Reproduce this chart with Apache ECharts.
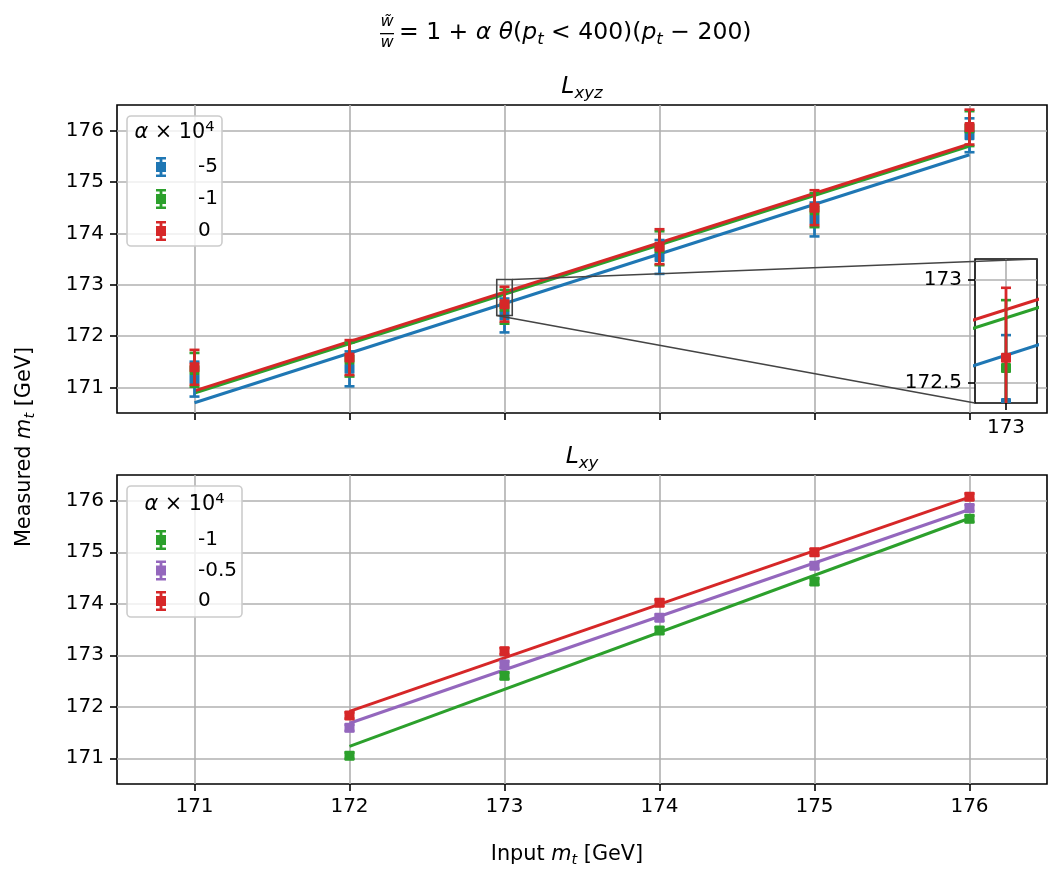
<!DOCTYPE html>
<html><head><meta charset="utf-8">
<script src="https://cdn.jsdelivr.net/npm/echarts@6/dist/echarts.min.js"></script>
<style>html,body{margin:0;padding:0;background:#fff}#c{width:1062px;height:882px}</style>
</head><body><div id="c"></div>
<script>
// ---------- data ----------
const topInputMt = [171, 172, 173, 174, 175, 176];
const topAlphaLabels = ['-5', '-1', '0'];
const topBlueMeas  = [171.16, 171.36, 172.40, 173.54, 174.27, 175.91];
const topGreenMeas = [171.34, 171.54, 172.57, 173.71, 174.45, 176.04];
const topRedMeas   = [171.39, 171.58, 172.62, 173.74, 174.50, 176.07];
const topBlueErr   = [0.34, 0.34, 0.33, 0.33, 0.33, 0.33];
const topGreenErr  = [0.33, 0.33, 0.33, 0.33, 0.33, 0.34];
const topRedErr    = [0.34, 0.34, 0.34, 0.34, 0.34, 0.34];
const topFitX      = [171, 176];
const topBlueFit   = [170.70, 175.53];
const topGreenFit  = [170.89, 175.70];
const topRedFit    = [170.93, 175.74];

const botInputMt = [172, 173, 174, 175, 176];
const botAlphaLabels = ['-1', '-0.5', '0'];
const botGreenMeas  = [171.05, 172.60, 173.48, 174.43, 175.65];
const botPurpleMeas = [171.59, 172.82, 173.73, 174.74, 175.86];
const botRedMeas    = [171.83, 173.08, 174.02, 175.00, 176.08];
const botGreenErr   = [0.06, 0.06, 0.06, 0.06, 0.06];
const botPurpleErr  = [0.06, 0.06, 0.06, 0.06, 0.06];
const botRedErr     = [0.06, 0.06, 0.06, 0.06, 0.06];
const botFitX       = [172, 176];
const botGreenFit   = [171.23, 175.66];
const botPurpleFit  = [171.68, 175.83];
const botRedFit     = [171.91, 176.07];

const xTickValues = [171, 172, 173, 174, 175, 176];
const yTickValues = [171, 172, 173, 174, 175, 176];
const insetXTicks = [173];
const insetYTicks = [172.5, 173];
const insetXRange = [172.95, 173.05];
const insetYRange = [172.4, 173.1];

// ---------- styling ----------
const FONT = 'DejaVu Sans';
const COL = { blue: '#1f77b4', green: '#2ca02c', red: '#d62728', purple: '#9467bd' };
const TICKFS = 20;

function zip(xs, ys, es) { return xs.map((x, i) => es ? [x, ys[i], es[i]] : [x, ys[i]]); }

function errRender(color) {
  return function (params, api) {
    const x = api.value(0), y = api.value(1), e = api.value(2);
    const p = api.coord([x, y]);
    const pt = api.coord([x, y + e]);
    const pb = api.coord([x, y - e]);
    const cap = 5, s = 10;
    return {
      type: 'group',
      children: [
        { type: 'line', shape: { x1: p[0], y1: pt[1], x2: p[0], y2: pb[1] }, style: { stroke: color, lineWidth: 2.8 } },
        { type: 'line', shape: { x1: p[0] - cap, y1: pt[1], x2: p[0] + cap, y2: pt[1] }, style: { stroke: color, lineWidth: 2.6 } },
        { type: 'line', shape: { x1: p[0] - cap, y1: pb[1], x2: p[0] + cap, y2: pb[1] }, style: { stroke: color, lineWidth: 2.6 } },
        { type: 'rect', shape: { x: p[0] - s / 2, y: p[1] - s / 2, width: s, height: s, r: 1 }, style: { fill: color } }
      ]
    };
  };
}
function errSeries(name, gi, xs, ys, es, color) {
  return { type: 'custom', name: name, xAxisIndex: gi, yAxisIndex: gi, clip: true,
    renderItem: errRender(color), itemStyle: { color: color },
    data: zip(xs, ys, es), encode: { x: 0, y: 1 }, z: 4, silent: true };
}
function fitSeries(name, gi, xs, ys, color) {
  return { type: 'line', name: name, xAxisIndex: gi, yAxisIndex: gi, data: zip(xs, ys),
    symbol: 'none', lineStyle: { color: color, width: 3 }, itemStyle: { color: color },
    z: 3, silent: true, animation: false, clip: true };
}
function xAx(gi, min, max, ticks, showLabel, margin) {
  return { type: 'value', gridIndex: gi, min: min, max: max,
    axisLine: { show: false },
    axisTick: { show: true, customValues: ticks, length: 7, lineStyle: { color: '#000', width: 1.6 } },
    axisLabel: { show: showLabel, customValues: ticks, color: '#000', fontSize: TICKFS, fontFamily: FONT, margin: margin,
      formatter: v => String(v) },
    splitLine: { show: true, lineStyle: { color: '#b0b0b0', width: 1.6 } } };
}
function yAx(gi, min, max, ticks, margin) {
  return { type: 'value', gridIndex: gi, min: min, max: max,
    axisLine: { show: false },
    axisTick: { show: true, customValues: ticks, length: 7, lineStyle: { color: '#000', width: 1.6 } },
    axisLabel: { show: true, customValues: ticks, color: '#000', fontSize: TICKFS, fontFamily: FONT, margin: margin,
      formatter: v => String(v) },
    splitLine: { show: true, lineStyle: { color: '#b0b0b0', width: 1.6 } } };
}

const ICON = 'path://M0,0H10V2.6H0Z M3.6,0H6.4V20H3.6Z M0,17.4H10V20H0Z M0,5H10V15H0Z';

const option = {
  animation: false,
  backgroundColor: '#fff',
  grid: [
    { left: 117, top: 105, width: 930, height: 308, show: true, borderColor: '#000', borderWidth: 1.6, backgroundColor: 'transparent' },
    { left: 117, top: 475, width: 930, height: 309, show: true, borderColor: '#000', borderWidth: 1.6, backgroundColor: 'transparent' },
    { left: 975, top: 259, width: 62, height: 144, show: true, borderColor: '#000', borderWidth: 1.6, backgroundColor: '#fff', z: 5 }
  ],
  xAxis: [
    xAx(0, 170.5, 176.5, xTickValues, false, 13),
    xAx(1, 170.5, 176.5, xTickValues, true, 13),
    Object.assign(xAx(2, insetXRange[0], insetXRange[1], insetXTicks, true, 15), { z: 6 })
  ],
  yAxis: [
    yAx(0, 170.5, 176.5, yTickValues, 13),
    yAx(1, 170.5, 176.5, yTickValues, 13),
    Object.assign(yAx(2, insetYRange[0], insetYRange[1], insetYTicks, 13), { z: 6 })
  ],
  legend: [
    { show: true, orient: 'vertical', left: 151, top: 152, itemWidth: 10, itemHeight: 20, itemGap: 12,
      selectedMode: false, formatter: n => n.split(':')[1],
      textStyle: { color: '#000', fontSize: TICKFS, fontFamily: FONT, lineHeight: 20, padding: [0, 0, 0, 27] },
      data: topAlphaLabels.map(a => ({ name: 'top:' + a, icon: ICON })) },
    { show: true, orient: 'vertical', left: 151, top: 525, itemWidth: 10, itemHeight: 20, itemGap: 10.5,
      selectedMode: false, formatter: n => n.split(':')[1],
      textStyle: { color: '#000', fontSize: TICKFS, fontFamily: FONT, lineHeight: 20, padding: [0, 0, 0, 27] },
      data: botAlphaLabels.map(a => ({ name: 'bot:' + a, icon: ICON })) }
  ],
  series: [
    fitSeries('fitb', 0, topFitX, topBlueFit, COL.blue),
    fitSeries('fitg', 0, topFitX, topGreenFit, COL.green),
    fitSeries('fitr', 0, topFitX, topRedFit, COL.red),
    errSeries('top:' + topAlphaLabels[0], 0, topInputMt, topBlueMeas, topBlueErr, COL.blue),
    errSeries('top:' + topAlphaLabels[1], 0, topInputMt, topGreenMeas, topGreenErr, COL.green),
    errSeries('top:' + topAlphaLabels[2], 0, topInputMt, topRedMeas, topRedErr, COL.red),

    Object.assign(fitSeries('ifitb', 2, topFitX, topBlueFit, COL.blue), { z: 7 }),
    Object.assign(fitSeries('ifitg', 2, topFitX, topGreenFit, COL.green), { z: 7 }),
    Object.assign(fitSeries('ifitr', 2, topFitX, topRedFit, COL.red), { z: 7 }),
    Object.assign(errSeries('ins:b', 2, topInputMt, topBlueMeas, topBlueErr, COL.blue), { z: 8 }),
    Object.assign(errSeries('ins:g', 2, topInputMt, topGreenMeas, topGreenErr, COL.green), { z: 8 }),
    Object.assign(errSeries('ins:r', 2, topInputMt, topRedMeas, topRedErr, COL.red), { z: 8 }),

    fitSeries('bfitg', 1, botFitX, botGreenFit, COL.green),
    fitSeries('bfitp', 1, botFitX, botPurpleFit, COL.purple),
    fitSeries('bfitr', 1, botFitX, botRedFit, COL.red),
    errSeries('bot:' + botAlphaLabels[0], 1, botInputMt, botGreenMeas, botGreenErr, COL.green),
    errSeries('bot:' + botAlphaLabels[1], 1, botInputMt, botPurpleMeas, botPurpleErr, COL.purple),
    errSeries('bot:' + botAlphaLabels[2], 1, botInputMt, botRedMeas, botRedErr, COL.red)
  ]
};

const chart = echarts.init(document.getElementById('c'));
chart.setOption(option);

// ---------- annotations (inset marker, legend frames, titles) ----------
const zTL = chart.convertToPixel({ gridIndex: 0 }, [insetXRange[0], insetYRange[1]]);
const zBR = chart.convertToPixel({ gridIndex: 0 }, [insetXRange[1], insetYRange[0]]);
const iTR = chart.convertToPixel({ gridIndex: 2 }, [insetXRange[1], insetYRange[1]]);
const iBL = chart.convertToPixel({ gridIndex: 2 }, [insetXRange[0], insetYRange[0]]);

const TFS = 23.5;
const mathRich = {
  n: { fontFamily: FONT, fontSize: TFS, color: '#000', lineHeight: 30 },
  i: { fontFamily: FONT, fontSize: TFS, fontStyle: 'italic', color: '#000', lineHeight: 30 },
  s: { fontFamily: FONT, fontSize: 16.5, fontStyle: 'italic', color: '#000', lineHeight: 16, verticalAlign: 'bottom' }
};
const LFS = 20.8;
const labRich = {
  n: { fontFamily: FONT, fontSize: LFS, color: '#000', lineHeight: 26 },
  i: { fontFamily: FONT, fontSize: LFS, fontStyle: 'italic', color: '#000', lineHeight: 26 },
  s: { fontFamily: FONT, fontSize: 14.6, fontStyle: 'italic', color: '#000', lineHeight: 14, verticalAlign: 'bottom' },
  u: { fontFamily: FONT, fontSize: 14.6, color: '#000', lineHeight: 14, verticalAlign: 'top' }
};

chart.setOption({
  graphic: [
    { type: 'rect', z: 50, shape: { x: zTL[0], y: zTL[1], width: zBR[0] - zTL[0], height: zBR[1] - zTL[1] },
      style: { fill: 'none', stroke: '#444', lineWidth: 1.6 } },
    { type: 'line', z: 50, shape: { x1: zBR[0], y1: zTL[1], x2: iTR[0], y2: iTR[1] }, style: { stroke: '#444', lineWidth: 1.6 } },
    { type: 'line', z: 50, shape: { x1: zTL[0], y1: zBR[1], x2: iBL[0], y2: iBL[1] }, style: { stroke: '#444', lineWidth: 1.6 } },
    { type: 'rect', z: 1, shape: { x: 127, y: 116, width: 95, height: 130, r: 4 },
      style: { fill: 'rgba(255,255,255,0.8)', stroke: '#cccccc', lineWidth: 1.6 } },
    { type: 'text', z: 60, x: 174.5, y: 133, style: { text: '{i|α}{n| × 10}{u|4}', rich: labRich, align: 'center', verticalAlign: 'middle' } },
    { type: 'rect', z: 1, shape: { x: 127, y: 486, width: 115, height: 131, r: 4 },
      style: { fill: 'rgba(255,255,255,0.8)', stroke: '#cccccc', lineWidth: 1.6 } },
    { type: 'text', z: 60, x: 184.5, y: 505, style: { text: '{i|α}{n| × 10}{u|4}', rich: labRich, align: 'center', verticalAlign: 'middle' } },
    { type: 'text', x: 582, y: 87, style: { text: '{i|L}{s|xyz}', rich: mathRich, align: 'center', verticalAlign: 'middle' } },
    { type: 'text', x: 582, y: 457, style: { text: '{i|L}{s|xy}', rich: mathRich, align: 'center', verticalAlign: 'middle' } },
    { type: 'text', x: 567, y: 855, style: { text: '{n|Input }{i|m}{s|t}{n| [GeV]}', rich: labRich, align: 'center', verticalAlign: 'middle' } },
    { type: 'text', x: 25, y: 447, rotation: Math.PI / 2,
      style: { text: '{n|Measured }{i|m}{s|t}{n| [GeV]}', rich: labRich, align: 'center', verticalAlign: 'middle' } },
    { type: 'text', x: 387, y: 22, style: { text: 'w\u0303', font: 'italic 16px "DejaVu Sans"', fill: '#000', align: 'center', verticalAlign: 'middle' } },
    { type: 'rect', shape: { x: 380, y: 33, width: 14, height: 1.3 }, style: { fill: '#000' } },
    { type: 'text', x: 387, y: 43, style: { text: 'w', font: 'italic 16px "DejaVu Sans"', fill: '#000', align: 'center', verticalAlign: 'middle' } },
    { type: 'text', x: 399, y: 33, style: { text: '{n|= 1 + }{i|α θ}{n|(}{i|p}{s|t}{n| < 400)(}{i|p}{s|t}{n| − 200)}', rich: mathRich, align: 'left', verticalAlign: 'middle' } }
  ]
});
</script>
</body></html>
